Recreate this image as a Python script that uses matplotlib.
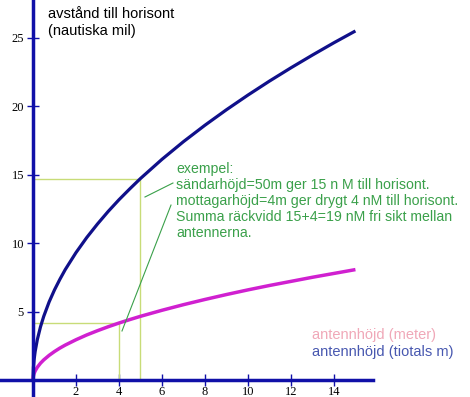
import matplotlib
matplotlib.use("Agg")
import matplotlib.pyplot as plt

# antenna height (x) and distance to horizon in nautical miles (y)
height = [0, 0.02, 0.05, 0.1, 0.2, 0.35, 0.5, 0.75, 1, 1.25, 1.5, 2, 2.5, 3,
          3.5, 4, 4.5, 5, 6, 7, 8, 9, 10, 11, 12, 13, 14, 15]
dist_tens = [0, 0.93, 1.47, 2.08, 2.94, 3.89, 4.65, 5.7, 6.58, 7.35, 8.06,
             9.3, 10.4, 11.39, 12.31, 13.16, 13.95, 14.71, 16.11, 17.4, 18.6,
             19.73, 20.8, 21.82, 22.79, 23.72, 24.62, 25.48]
dist_meter = [0, 0.29, 0.47, 0.66, 0.93, 1.23, 1.47, 1.8, 2.08, 2.33, 2.55,
              2.94, 3.29, 3.6, 3.89, 4.16, 4.41, 4.65, 5.09, 5.5, 5.88, 6.24,
              6.58, 6.9, 7.2, 7.5, 7.78, 8.06]

x_ticks = [2, 4, 6, 8, 10, 12, 14]
y_ticks = [5, 10, 15, 20, 25]

# example guide points
ex_send = (5, 14.7)
ex_recv = (4, 4.16)

note_lines = [
    "exempel:",
    "sändarhöjd=50m ger 15 n M till horisont.",
    "mottagarhöjd=4m ger drygt 4 nM till horisont.",
    "Summa räckvidd 15+4=19 nM fri sikt mellan",
    "antennerna.",
]

axis_col = "#1010a8"
guide_col = "#c8dc78"
note_col = "#3aa04a"

fig = plt.figure(figsize=(4.7, 3.97), dpi=100)
ax = fig.add_axes([0, 0, 1, 1])
ax.set_xlim(-1.535, 20.33)
ax.set_ylim(-1.24, 27.74)

for s in ["top", "right"]:
    ax.spines[s].set_visible(False)
ax.spines["left"].set_position(("data", 0))
ax.spines["bottom"].set_position(("data", 0))
ax.spines["bottom"].set_bounds(-1.535, 15.8)
for s in ["left", "bottom"]:
    ax.spines[s].set_color(axis_col)
    ax.spines[s].set_linewidth(2.5)

ax.set_xticks(x_ticks)
ax.set_yticks(y_ticks)
ax.tick_params(direction="inout", length=9, width=1, color=axis_col,
               labelsize=9)
ax.tick_params(axis="x", pad=0)
ax.tick_params(axis="y", pad=2)
for lab in ax.get_xticklabels() + ax.get_yticklabels():
    lab.set_family("Liberation Serif")

# guide lines for the example
ax.plot([0, ex_send[0], ex_send[0]], [ex_send[1], ex_send[1], 0],
        color=guide_col, lw=1)
ax.plot([0, ex_recv[0], ex_recv[0]], [ex_recv[1], ex_recv[1], 0],
        color=guide_col, lw=1)

ax.plot(height, dist_tens, color="#10108a", lw=2.3, solid_capstyle="butt")
ax.plot(height, dist_meter, color="#d020d0", lw=2.5, solid_capstyle="butt")

# pointer lines from the note
ax.plot([5.21, 6.51], [13.36, 14.38], color=note_col, lw=0.8)
ax.plot([4.14, 6.42], [3.58, 12.77], color=note_col, lw=0.8)

ax.text(6.65, 15.95, "\n".join(note_lines), color=note_col, fontsize=10.2,
        family="Liberation Sans", va="top", ha="left", linespacing=1.2)

ax.text(0.7, 27.2, "avstånd till horisont\n(nautiska mil)", color="black",
        fontsize=10.5, family="Liberation Sans", va="top", ha="left",
        linespacing=1.2)

ax.text(13.0, 3.3, "antennhöjd (meter)", color="#f0a8b8", fontsize=10.5,
        family="Liberation Sans", va="center", ha="left")
ax.text(13.0, 2.05, "antennhöjd (tiotals m)", color="#4858b0", fontsize=10.5,
        family="Liberation Sans", va="center", ha="left")

fig.savefig("out.png", dpi=100)
